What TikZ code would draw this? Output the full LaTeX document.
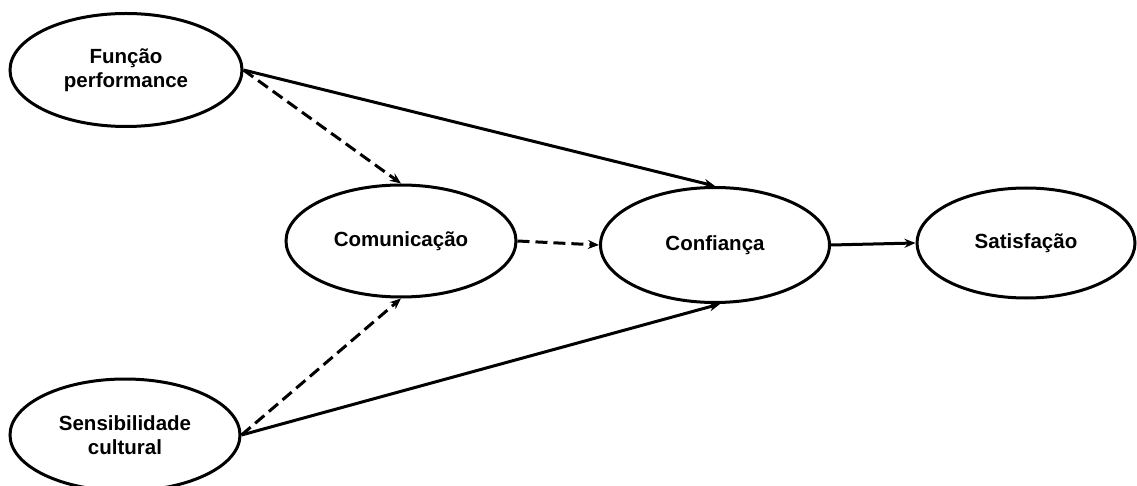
\documentclass[tikz,border=0pt]{standalone}
\usepackage{fontspec}
\setmainfont{Liberation Sans}
\usetikzlibrary{shapes.geometric,arrows.meta}
\begin{document}
\begin{tikzpicture}[x=1pt,y=-1pt,
  construct/.style={ellipse,draw=black,line width=3pt,inner sep=0pt,align=center,
    font=\fontsize{20.5}{24}\selectfont\bfseries},
  link/.style={line width=3pt,-{Stealth[length=11pt,width=9pt]}},
  dlink/.style={link,dash pattern=on 12pt off 6pt}]
\useasboundingbox (0,0) rectangle (1137,486);
\node[construct,minimum width=232pt,minimum height=113pt] (fp) at (126,70) {Função\\performance};
\node[construct,minimum width=230pt,minimum height=112pt] (sc) at (125,435) {Sensibilidade\\cultural};
\node[construct,minimum width=230pt,minimum height=112pt] (com) at (401,241) {Comunicação};
\node[construct,minimum width=229pt,minimum height=115pt] (conf) at (715,245) {Confiança};
\node[construct,minimum width=218pt,minimum height=110pt] (sat) at (1026,243) {Satisfação};
\draw[dlink] (fp.east) -- (com.north);
\draw[link] (fp.east) -- (conf.north);
\draw[dlink] (sc.east) -- (com.south);
\draw[link] (sc.east) -- (conf.-85);
\draw[dlink] (com.east) -- (conf.west);
\draw[link] (conf.east) -- (sat.west);
\end{tikzpicture}
\end{document}
